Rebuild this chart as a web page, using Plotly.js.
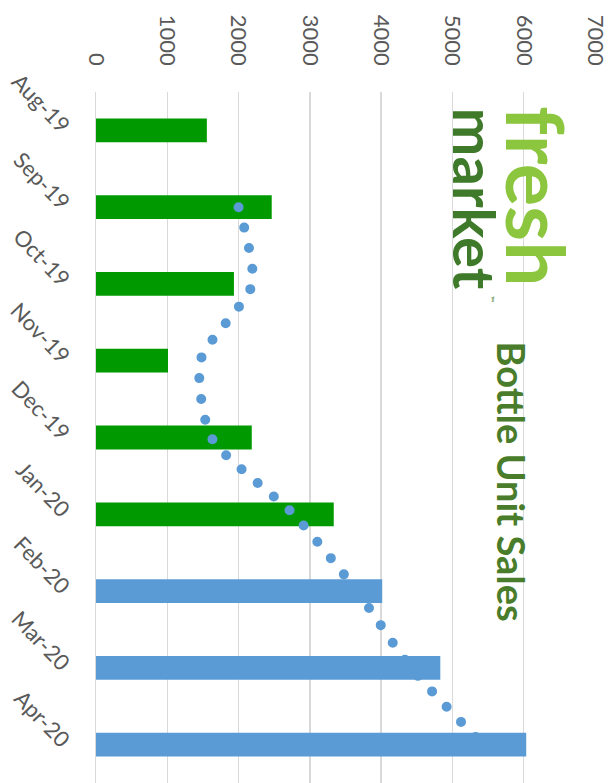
<!DOCTYPE html>
<html>
<head>
<meta charset="utf-8">
<script src="https://cdn.plot.ly/plotly-3.0.1.min.js"></script>
<style>
html,body{margin:0;padding:0;background:#fff;}
#chart{width:616px;height:783px;}
.scatterlayer .js-line{stroke-linecap:round;}
</style>
</head>
<body>
<div id="chart"></div>
<script>
// Data
const months = ['Aug-19','Sep-19','Oct-19','Nov-19','Dec-19','Jan-20','Feb-20','Mar-20','Apr-20'];
const unitSales = [1555, 2465, 1935, 1010, 2185, 3335, 4015, 4830, 6035];
const trendMonths = ['Sep-19','Oct-19','Nov-19','Dec-19','Jan-20','Feb-20','Mar-20','Apr-20'];
const trendValues = [2000, 2190, 1465, 1620, 2770, 3660, 4420, 5430];
const valueTicks = [0, 1000, 2000, 3000, 4000, 5000, 6000, 7000];

const GREEN = '#009a00';
const BLUE = '#5b9bd5';
const nGreen = 6; // Aug-19 .. Jan-20 drawn green
const barColors = months.map((m, i) => i < nGreen ? GREEN : BLUE);

const bars = {
  type: 'bar',
  orientation: 'h',
  x: unitSales,
  y: months,
  width: 0.31,
  marker: {color: barColors, line: {width: 0}},
  hoverinfo: 'skip'
};

const trend = {
  type: 'scatter',
  mode: 'lines',
  x: trendValues,
  y: trendMonths,
  line: {color: BLUE, width: 10, shape: 'spline', smoothing: 0.7, dash: '0px,21px'},
  hoverinfo: 'skip'
};

const tickFont = {family: 'Lato, "Open Sans", sans-serif', size: 22, color: '#595959'};

const layout = {
  width: 616,
  height: 783,
  margin: {l: 96, r: 21, t: 92, b: 0, pad: 0},
  paper_bgcolor: '#ffffff',
  plot_bgcolor: '#ffffff',
  showlegend: false,
  xaxis: {
    side: 'top',
    range: [0, 7000],
    tickvals: valueTicks,
    ticktext: valueTicks.map(String),
    tickangle: 90,
    tickfont: tickFont,
    ticks: '',
    ticklabelstandoff: 22,
    showgrid: true,
    gridcolor: '#d9d9d9',
    gridwidth: 1.5,
    zeroline: false,
    showline: false,
    fixedrange: true
  },
  yaxis: {
    type: 'category',
    categoryorder: 'array',
    categoryarray: months,
    range: [8.5, -0.5],
    tickangle: 46,
    tickfont: tickFont,
    ticks: '',
    ticklabelstandoff: 22,
    showgrid: false,
    zeroline: false,
    showline: true,
    linecolor: '#d9d9d9',
    linewidth: 1.5,
    fixedrange: true
  },
  shapes: [
    {type: 'rect', xref: 'paper', yref: 'paper', x0: 0.70, x1: 0.985, y0: 0.70, y1: 0.988,
     fillcolor: '#ffffff', line: {width: 0}, layer: 'between'}
  ],
  annotations: [
    {text: '<b>Bottle Unit Sales</b>', xref: 'paper', yref: 'paper', x: 0.834, y: 0.436,
     textangle: 90, showarrow: false, xanchor: 'center', yanchor: 'middle',
     font: {family: 'Lato, "Open Sans", sans-serif', size: 38, color: '#4a7d2b'}},
    {text: '<b>fresh</b>', xref: 'paper', yref: 'paper', x: 0.885, y: 0.85,
     textangle: 90, showarrow: false, xanchor: 'center', yanchor: 'middle',
     font: {family: 'Lato, "Open Sans", sans-serif', size: 80, color: '#8cc63f'}},
    {text: '<b>market</b>', xref: 'paper', yref: 'paper', x: 0.762, y: 0.845,
     textangle: 90, showarrow: false, xanchor: 'center', yanchor: 'middle',
     font: {family: 'Lato, "Open Sans", sans-serif', size: 58, color: '#3f7a2a'}},
    {text: '™', xref: 'paper', yref: 'paper', x: 0.79, y: 0.70,
     textangle: 90, showarrow: false, xanchor: 'center', yanchor: 'middle',
     font: {family: 'Lato, sans-serif', size: 8, color: '#3f7a2a'}}
  ]
};

Plotly.newPlot('chart', [bars, trend], layout, {displayModeBar: false, staticPlot: true});
</script>
</body>
</html>
